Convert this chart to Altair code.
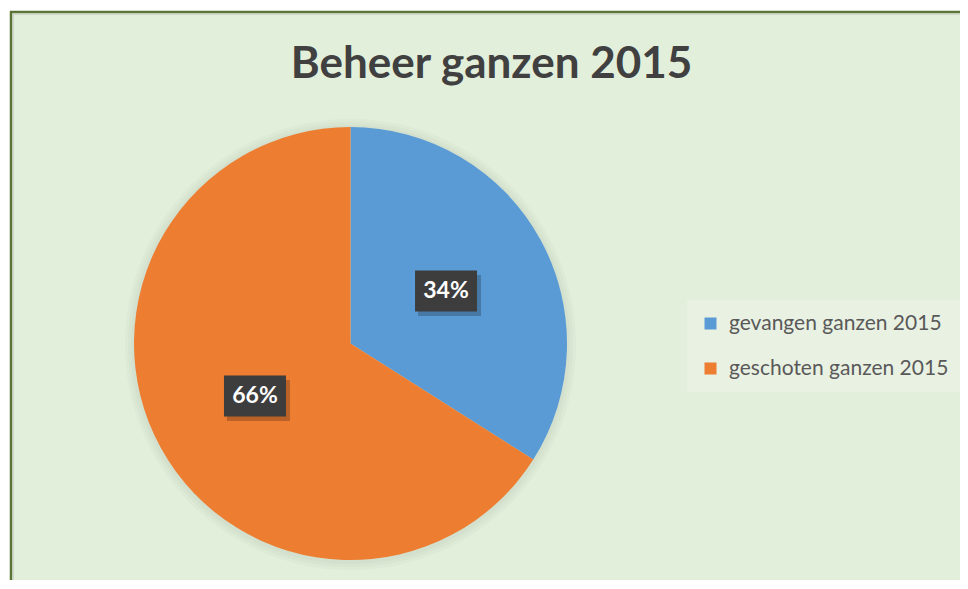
import altair as alt
import pandas as pd

title_text = "Beheer ganzen 2015"
categories = ["gevangen ganzen 2015", "geschoten ganzen 2015"]
values = [34, 66]
orders = [0, 1]
colors = ["#5B9BD5", "#ED7D31"]

df = pd.DataFrame({"cat": categories, "value": values, "order": orders})
one = alt.Data(values=[{"t": title_text}])

CX, CY, R, LR = 342.5, 335.5, 216.5, 109

bg = alt.Chart(one).mark_rect(fill="#E2EFDA").encode(
    x=alt.value(3), x2=alt.value(990), y=alt.value(4), y2=alt.value(600))
vline = alt.Chart(one).mark_rule(color="#5A7535", strokeWidth=2.5).encode(
    x=alt.value(3), y=alt.value(3), y2=alt.value(600))
hline = alt.Chart(one).mark_rule(color="#5A7535", strokeWidth=2.5).encode(
    y=alt.value(4), x=alt.value(2), x2=alt.value(990))
vline2 = alt.Chart(one).mark_rule(color="#C9CFC3", strokeWidth=1.5).encode(
    x=alt.value(5), y=alt.value(5.5), y2=alt.value(600))
hline2 = alt.Chart(one).mark_rule(color="#C9CFC3", strokeWidth=1.5).encode(
    y=alt.value(6), x=alt.value(5), x2=alt.value(990))

shadows = [
    alt.Chart(one).mark_arc(radius=R + r, theta=0, theta2=6.2832, fill="#9AAE9A", opacity=0.07).encode(
        x=alt.value(CX), y=alt.value(CY + 1))
    for r in (9, 6, 3)
]

pie = alt.Chart(df).mark_arc(radius=R).encode(
    theta=alt.Theta("value:Q", stack=True),
    order=alt.Order("order:Q"),
    color=alt.Color("cat:N", scale=alt.Scale(domain=categories, range=colors),
                    legend=alt.Legend(title=None, orient="none", legendX=679, legendY=292,
                                      fillColor="#E9F1E3", padding=13, symbolType="square",
                                      symbolSize=144, symbolStrokeWidth=0, labelFont="Lato",
                                      labelFontSize=21, labelColor="#595959", rowPadding=23,
                                      labelOffset=8, labelLimit=400)),
    x=alt.value(CX), y=alt.value(CY),
)

lab = alt.Chart(df).transform_window(
    cum="sum(value)", sort=[alt.SortField("order")]
).transform_joinaggregate(total="sum(value)").transform_calculate(
    mid="(datum.cum - datum.value/2)/datum.total",
).transform_calculate(
    lx=f"{CX} + {LR}*sin(2*PI*datum.mid)",
    ly=f"{CY} - {LR}*cos(2*PI*datum.mid)",
    pct="format(datum.value/datum.total, '.0%')",
).transform_calculate(
    x0="datum.lx - 31", x1="datum.lx + 31", y0="datum.ly - 20.5", y1="datum.ly + 20.5",
    sx0="datum.lx - 28", sx1="datum.lx + 35", sy0="datum.ly - 16", sy1="datum.ly + 25",
)

box_shadow = lab.mark_rect(fill="#000000", opacity=0.22).encode(
    x=alt.X("sx0:Q", scale=None, axis=None), x2="sx1:Q",
    y=alt.Y("sy0:Q", scale=None, axis=None), y2="sy1:Q")
box = lab.mark_rect(fill="#3D3D3D").encode(
    x=alt.X("x0:Q", scale=None, axis=None), x2="x1:Q",
    y=alt.Y("y0:Q", scale=None, axis=None), y2="y1:Q")
txt = lab.mark_text(font="Lato", fontSize=23, fontWeight="bold", color="white",
                    align="center", baseline="middle").encode(
    x=alt.X("lx:Q", scale=None, axis=None), y=alt.Y("ly:Q", scale=None, axis=None),
    text="pct:N")

title = alt.Chart(one).mark_text(font="Lato", fontSize=44, fontWeight="bold", color="#404040",
                                 align="center", baseline="alphabetic").encode(
    x=alt.value(483.5), y=alt.value(70), text="t:N")

chart = alt.layer(bg, vline, hline, vline2, hline2, *shadows, pie, box_shadow, box, txt, title).properties(
    width=952, height=572,
    autosize=alt.AutoSizeParams(type="none"),
    padding=0,
).configure(background="white").configure_view(stroke=None)

chart.save("out.html", embed_options={"renderer": "svg", "actions": False})
